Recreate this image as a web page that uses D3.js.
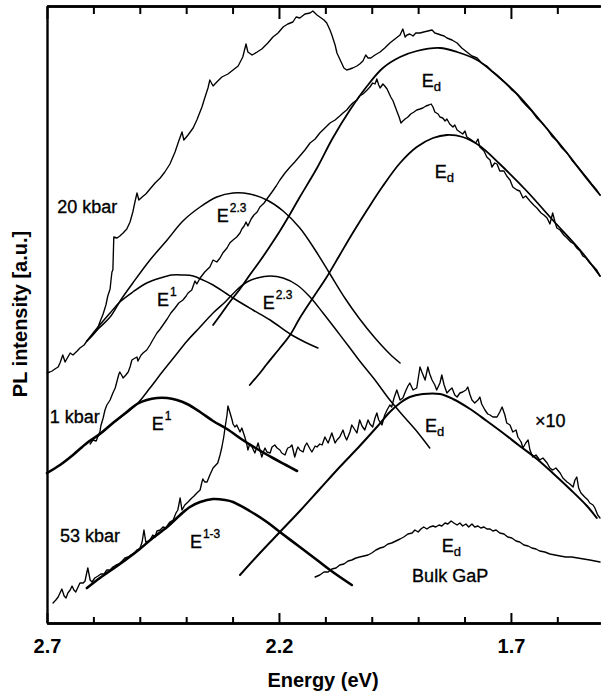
<!DOCTYPE html>
<html>
<head>
<meta charset="utf-8">
<script src="https://cdn.jsdelivr.net/npm/d3@7"></script>
<style>
  html, body { margin: 0; padding: 0; background: #fff; }
  svg { display: block; }
  text { font-family: "Liberation Sans", Arial, Helvetica, sans-serif; fill: #000; }
</style>
</head>
<body>
<svg id="chart" width="601" height="694"></svg>
<script>
// Photoluminescence spectra: [energy (eV), intensity (a.u.)]

// 20 kbar spectrum
const spec20kbar = [
  [2.700,250],[2.694,251],[2.689,252],[2.683,254],[2.676,256],[2.672,260],[2.666,268],[2.661,261],
  [2.655,266],[2.650,270],[2.644,268],[2.635,272],[2.629,275],[2.620,278],[2.614,282],[2.607,285],
  [2.601,288],[2.592,293],[2.586,301],[2.579,309],[2.573,318],[2.569,327],[2.564,334],[2.562,343],
  [2.560,351],[2.558,353],[2.556,386],[2.549,385],[2.543,387],[2.536,390],[2.528,394],[2.521,401],
  [2.515,411],[2.510,422],[2.506,430],[2.502,423],[2.495,426],[2.487,429],[2.478,434],[2.467,440],
  [2.456,445],[2.446,451],[2.435,459],[2.424,471],[2.416,482],[2.409,491],[2.405,483],[2.396,488],
  [2.385,495],[2.377,503],[2.366,516],[2.360,525],[2.353,535],[2.349,543],[2.342,537],[2.334,541],
  [2.323,546],[2.310,549],[2.299,553],[2.288,557],[2.278,566],[2.271,579],[2.267,571],[2.258,568],
  [2.247,571],[2.237,574],[2.224,580],[2.213,586],[2.202,590],[2.191,596],[2.181,599],[2.170,601],
  [2.163,606],[2.155,605],[2.144,609],[2.133,610],[2.127,612],[2.118,608],[2.112,606],[2.103,603],
  [2.097,600],[2.090,593],[2.086,588],[2.079,578],[2.075,570],[2.066,561],[2.060,555],[2.054,553],
  [2.047,554],[2.041,555],[2.032,557],[2.026,559],[2.019,562],[2.013,568],[2.008,565],[2.002,565],
  [1.993,568],[1.982,571],[1.972,575],[1.961,580],[1.950,584],[1.939,588],[1.933,594],[1.928,586],
  [1.924,588],[1.918,589],[1.911,587],[1.905,590],[1.896,590],[1.888,591],[1.879,592],[1.870,593],
  [1.864,590],[1.857,589],[1.851,588],[1.844,587],[1.838,585],[1.827,583],[1.816,580],[1.806,575],
  [1.795,571],[1.784,567],[1.773,565],[1.763,560],[1.752,557],[1.741,552],[1.730,548],[1.719,543],
  [1.709,539],[1.698,533],[1.687,529],[1.676,522],[1.666,517],[1.655,512],[1.644,505],[1.633,500],
  [1.622,494],[1.612,487],[1.601,482],[1.590,475],[1.579,470],[1.569,463],[1.558,457],[1.547,451],
  [1.536,445],[1.526,439],[1.515,433],[1.508,428]
];

// 20 kbar fit components
const fit20E23 = [
  [2.614,282],[2.590,294],[2.564,306],[2.541,323],[2.515,340],[2.478,363],[2.441,383],[2.407,402],
  [2.370,416],[2.334,426],[2.299,430],[2.263,429],[2.226,423],[2.191,412],[2.155,395],[2.122,373],
  [2.090,349],[2.058,325],[2.026,304],[1.993,285],[1.961,269],[1.939,260]
];
const fit20E1 = [
  [2.614,282],[2.590,296],[2.564,310],[2.543,321],[2.515,331],[2.485,340],[2.456,345],[2.431,348],
  [2.407,348],[2.385,347],[2.364,343],[2.342,338],[2.299,325],[2.256,313],[2.219,303],[2.176,289],
  [2.140,280],[2.116,275]
];
const fit20Ed = [
  [2.342,298],[2.323,310],[2.306,321],[2.284,334],[2.263,348],[2.241,362],[2.219,377],[2.198,392],
  [2.176,409],[2.155,426],[2.118,455],[2.084,485],[2.047,513],[2.010,537],[1.976,555],[1.939,566],
  [1.903,572],[1.853,575],[1.816,571],[1.773,563],[1.739,551],[1.687,529],[1.638,503],[1.579,470],
  [1.536,444],[1.508,428]
];

// 1 kbar spectrum
const spec1kbar = [
  [2.607,179],[2.601,183],[2.594,182],[2.590,187],[2.586,191],[2.584,197],[2.579,205],[2.575,213],
  [2.571,218],[2.564,223],[2.558,230],[2.553,235],[2.549,242],[2.545,249],[2.543,251],[2.538,247],
  [2.536,245],[2.530,248],[2.525,251],[2.521,256],[2.517,263],[2.510,265],[2.506,266],[2.504,262],
  [2.497,268],[2.493,270],[2.485,273],[2.478,278],[2.472,283],[2.463,290],[2.456,294],[2.450,298],
  [2.441,304],[2.433,310],[2.424,315],[2.416,320],[2.407,323],[2.400,327],[2.396,330],[2.388,333],
  [2.381,342],[2.377,339],[2.370,345],[2.360,351],[2.349,356],[2.342,363],[2.334,361],[2.327,365],
  [2.321,370],[2.312,375],[2.306,380],[2.299,383],[2.291,386],[2.284,390],[2.280,394],[2.275,397],
  [2.271,401],[2.267,397],[2.260,404],[2.254,408],[2.247,411],[2.241,416],[2.232,420],[2.226,424],
  [2.215,431],[2.206,437],[2.198,443],[2.187,450],[2.176,456],[2.166,461],[2.155,467],[2.144,473],
  [2.133,480],[2.122,484],[2.112,490],[2.101,495],[2.090,500],[2.079,503],[2.069,507],[2.062,510],
  [2.054,513],[2.047,517],[2.041,520],[2.032,523],[2.026,527],[2.019,529],[2.010,533],[2.004,536],
  [1.998,540],[1.993,539],[1.989,544],[1.985,538],[1.982,535],[1.976,539],[1.972,537],[1.967,534],
  [1.963,530],[1.959,526],[1.954,522],[1.950,517],[1.946,512],[1.941,506],[1.937,500],[1.933,502],
  [1.928,504],[1.922,506],[1.916,509],[1.909,511],[1.903,513],[1.896,514],[1.890,515],[1.883,517],
  [1.877,518],[1.872,519],[1.868,516],[1.864,511],[1.857,509],[1.853,506],[1.847,505],[1.842,502],
  [1.838,504],[1.832,499],[1.825,496],[1.821,498],[1.816,493],[1.810,491],[1.804,489],[1.799,492],
  [1.795,486],[1.788,484],[1.782,482],[1.776,480],[1.771,484],[1.767,476],[1.758,472],[1.752,466],
  [1.745,463],[1.741,456],[1.735,460],[1.730,459],[1.724,452],[1.715,452],[1.709,447],[1.702,443],
  [1.696,436],[1.687,433],[1.681,432],[1.674,425],[1.668,427],[1.659,422],[1.651,418],[1.644,415],
  [1.635,410],[1.629,408],[1.622,405],[1.616,399],[1.610,410],[1.605,401],[1.601,395],[1.594,393],
  [1.586,388],[1.579,385],[1.571,381],[1.564,379],[1.558,375],[1.551,372],[1.545,367],[1.538,365],
  [1.530,360],[1.523,357],[1.515,353],[1.508,347]
];

// 1 kbar fit components
const fit1E1 = [
  [2.700,150],[2.672,158],[2.644,168],[2.614,180],[2.586,189],[2.558,200],[2.528,211],[2.506,219],
  [2.485,223],[2.463,225],[2.441,225],[2.420,223],[2.398,219],[2.370,211],[2.342,202],[2.312,194],
  [2.278,183],[2.247,174],[2.213,165],[2.185,158],[2.161,152]
];
const fit1E23 = [
  [2.586,189],[2.558,200],[2.532,209],[2.506,219],[2.478,235],[2.450,252],[2.424,267],[2.398,282],
  [2.370,296],[2.342,310],[2.316,321],[2.291,333],[2.269,341],[2.247,345],[2.219,347],[2.191,345],
  [2.161,338],[2.133,326],[2.105,310],[2.075,292],[2.047,275],[2.026,262],[1.993,243],[1.961,223],
  [1.928,205],[1.900,190],[1.875,175]
];
const fit1Ed = [
  [2.263,238],[2.241,250],[2.226,259],[2.198,275],[2.176,288],[2.155,305],[2.127,325],[2.097,346],
  [2.069,368],[2.041,390],[2.010,413],[1.976,437],[1.939,460],[1.903,476],[1.868,485],[1.838,488],
  [1.804,486],[1.767,477],[1.724,459],[1.666,432],[1.610,403],[1.551,373],[1.508,347]
];

// 53 kbar spectrum (high-energy side as measured, low-energy side x10)
const spec53kbar = [
  [2.687,20],[2.681,23],[2.676,26],[2.672,30],[2.668,34],[2.663,27],[2.659,25],[2.655,30],
  [2.650,33],[2.646,37],[2.642,33],[2.638,31],[2.633,36],[2.629,40],[2.622,40],[2.618,42],
  [2.614,51],[2.612,55],[2.607,43],[2.603,41],[2.597,45],[2.590,47],[2.584,49],[2.577,49],
  [2.571,53],[2.564,53],[2.558,56],[2.551,58],[2.545,59],[2.538,62],[2.532,65],[2.525,66],
  [2.519,68],[2.513,69],[2.506,73],[2.500,74],[2.495,81],[2.491,93],[2.487,81],[2.482,82],
  [2.478,83],[2.472,88],[2.467,86],[2.463,92],[2.456,93],[2.450,96],[2.444,95],[2.435,101],
  [2.428,103],[2.422,110],[2.418,113],[2.413,125],[2.409,113],[2.403,118],[2.396,121],[2.390,124],
  [2.383,127],[2.377,130],[2.370,133],[2.366,141],[2.364,144],[2.360,141],[2.355,141],[2.349,148],
  [2.342,155],[2.336,158],[2.332,160],[2.327,168],[2.323,176],[2.319,186],[2.316,196],[2.312,208],
  [2.310,217],[2.306,211],[2.301,203],[2.299,199],[2.295,196],[2.291,198],[2.286,193],[2.284,191],
  [2.280,195],[2.275,188],[2.273,185],[2.269,178],[2.267,173],[2.263,179],[2.258,176],[2.254,172],
  [2.252,170],[2.247,177],[2.245,180],[2.241,173],[2.237,166],[2.232,173],[2.230,175],[2.226,171],
  [2.219,170],[2.215,176],[2.209,178],[2.204,175],[2.198,173],[2.194,170],[2.187,168],[2.183,173],
  [2.181,175],[2.176,176],[2.172,178],[2.166,166],[2.161,174],[2.159,176],[2.155,173],[2.148,171],
  [2.144,177],[2.140,180],[2.133,174],[2.129,171],[2.122,177],[2.118,176],[2.112,179],[2.107,178],
  [2.101,186],[2.094,180],[2.090,185],[2.086,190],[2.079,180],[2.075,183],[2.069,186],[2.062,193],
  [2.058,187],[2.054,183],[2.047,191],[2.043,198],[2.036,193],[2.032,190],[2.026,203],[2.021,197],
  [2.015,193],[2.008,203],[2.004,199],[1.998,196],[1.993,205],[1.989,210],[1.985,203],[1.978,198],
  [1.972,208],[1.967,213],[1.961,218],[1.957,216],[1.952,225],[1.946,233],[1.939,223],[1.933,225],
  [1.926,233],[1.922,237],[1.918,240],[1.911,233],[1.903,235],[1.898,250],[1.896,256],[1.892,251],
  [1.885,243],[1.879,256],[1.875,249],[1.870,243],[1.864,238],[1.860,233],[1.853,240],[1.849,248],
  [1.844,238],[1.838,230],[1.832,233],[1.827,235],[1.821,228],[1.816,226],[1.810,230],[1.804,231],
  [1.797,233],[1.793,236],[1.788,228],[1.784,223],[1.778,220],[1.771,223],[1.767,226],[1.763,219],
  [1.756,213],[1.750,209],[1.745,208],[1.739,206],[1.730,206],[1.724,211],[1.719,216],[1.713,208],
  [1.709,200],[1.702,198],[1.696,191],[1.689,193],[1.685,186],[1.678,181],[1.674,175],[1.668,180],
  [1.663,183],[1.659,173],[1.653,166],[1.646,168],[1.638,163],[1.631,165],[1.622,160],[1.616,155],
  [1.610,153],[1.603,155],[1.594,150],[1.588,145],[1.579,141],[1.573,139],[1.566,136],[1.562,143],
  [1.558,146],[1.554,135],[1.549,130],[1.545,128],[1.541,126],[1.534,123],[1.530,120],[1.523,118],
  [1.519,115],[1.513,108],[1.508,105]
];

// 53 kbar fit components
const fit53E13 = [
  [2.614,35],[2.586,45],[2.558,54],[2.528,64],[2.500,74],[2.472,85],[2.441,96],[2.413,108],
  [2.392,116],[2.370,121],[2.342,124],[2.316,123],[2.299,121],[2.263,112],[2.226,101],[2.198,91],
  [2.155,76],[2.118,63],[2.084,51],[2.043,38]
];
const fit53Ed = [
  [2.284,48],[2.241,70],[2.198,91],[2.155,112],[2.112,134],[2.069,156],[2.026,177],[1.989,196],
  [1.961,211],[1.939,220],[1.918,226],[1.890,229],[1.853,229],[1.825,224],[1.788,214],[1.752,202],
  [1.717,190],[1.681,177],[1.644,164],[1.610,150],[1.573,134],[1.536,117],[1.515,105]
];

// Bulk GaP spectrum
const specBulk = [
  [2.122,46],[2.112,48],[2.103,51],[2.094,51],[2.086,54],[2.077,55],[2.069,58],[2.060,59],
  [2.051,62],[2.043,63],[2.034,65],[2.026,66],[2.017,67],[2.008,68],[2.000,70],[1.991,73],
  [1.982,75],[1.974,76],[1.965,79],[1.957,80],[1.948,82],[1.939,84],[1.931,86],[1.922,89],
  [1.913,90],[1.907,93],[1.900,91],[1.894,94],[1.888,96],[1.881,94],[1.875,96],[1.868,97],
  [1.862,96],[1.855,98],[1.849,97],[1.842,100],[1.836,99],[1.829,102],[1.823,100],[1.816,98],
  [1.810,100],[1.804,97],[1.797,99],[1.791,96],[1.784,99],[1.778,96],[1.771,97],[1.765,95],
  [1.758,96],[1.752,94],[1.745,94],[1.739,92],[1.732,93],[1.724,90],[1.715,89],[1.707,86],
  [1.698,85],[1.689,82],[1.681,81],[1.672,78],[1.663,77],[1.655,75],[1.646,74],[1.638,72],
  [1.627,71],[1.616,69],[1.605,68],[1.594,67],[1.582,66],[1.569,66],[1.556,65],[1.543,64],
  [1.530,63],[1.519,62],[1.508,61]
];

// Axis ticks
const majorTicks = [2.7, 2.2, 1.7];
const minorTicks = [2.6, 2.5, 2.4, 2.3, 2.1, 2.0, 1.9, 1.8, 1.6];

// ---------------------------------------------------------------
const svg = d3.select("#chart");
const W = 601, H = 694;
svg.append("rect").attr("width", W).attr("height", H).attr("fill", "#fff");

const plot = { left: 47, right: 600, top: 6, bottom: 623 };

const x = d3.scaleLinear().domain([2.7, 1.508]).range([plot.left, plot.right]);
const y = d3.scaleLinear().domain([0, 617]).range([plot.bottom, plot.top]);

const rough = d3.line().x(d => x(d[0])).y(d => y(d[1])).curve(d3.curveLinear);
const smooth = d3.line().x(d => x(d[0])).y(d => y(d[1])).curve(d3.curveCatmullRom.alpha(0.5));

const layers = [
  { data: fit20E23, gen: smooth, w: 1.5 },
  { data: fit20E1,  gen: smooth, w: 1.5 },
  { data: fit20Ed,  gen: smooth, w: 1.8 },
  { data: fit1E23,  gen: smooth, w: 1.5 },
  { data: fit1Ed,   gen: smooth, w: 1.8 },
  { data: fit1E1,   gen: smooth, w: 2.6 },
  { data: fit53E13, gen: smooth, w: 2.6 },
  { data: fit53Ed,  gen: smooth, w: 2.0 },
  { data: spec20kbar, gen: rough, w: 1.35 },
  { data: spec1kbar,  gen: rough, w: 1.35 },
  { data: spec53kbar, gen: rough, w: 1.35 },
  { data: specBulk,   gen: rough, w: 1.4 }
];

svg.append("g").selectAll("path").data(layers).join("path")
  .attr("d", d => d.gen(d.data))
  .attr("fill", "none")
  .attr("stroke", "#000")
  .attr("stroke-width", d => d.w)
  .attr("stroke-linejoin", "round")
  .attr("stroke-linecap", "round");

// Axes
function styleAxis(g) {
  g.select(".domain").attr("stroke", "#000").attr("stroke-width", 2.4);
  g.selectAll(".tick line").attr("stroke", "#000").attr("stroke-width", 2);
}

const gBottomMinor = svg.append("g").attr("transform", `translate(0,${plot.bottom})`)
  .call(d3.axisBottom(x).tickValues(minorTicks).tickSizeInner(-6).tickSizeOuter(0).tickFormat(""));
styleAxis(gBottomMinor);

const gBottomMajor = svg.append("g").attr("transform", `translate(0,${plot.bottom})`)
  .call(d3.axisBottom(x).tickValues(majorTicks).tickSizeInner(-10).tickSizeOuter(0)
        .tickPadding(16).tickFormat(d3.format(".1f")));
styleAxis(gBottomMajor);
gBottomMajor.selectAll(".tick text")
  .attr("font-family", "'Liberation Sans', Arial, sans-serif")
  .attr("font-size", 20).attr("font-weight", "bold").attr("fill", "#000");

const gTopMinor = svg.append("g").attr("transform", `translate(0,${plot.top})`)
  .call(d3.axisTop(x).tickValues(minorTicks).tickSizeInner(-8).tickSizeOuter(0).tickFormat(""));
styleAxis(gTopMinor);
const gTopMajor = svg.append("g").attr("transform", `translate(0,${plot.top})`)
  .call(d3.axisTop(x).tickValues(majorTicks).tickSizeInner(-13).tickSizeOuter(0).tickFormat(""));
styleAxis(gTopMajor);
gTopMajor.select(".domain").attr("d", `M${plot.left},0.5H${W}`);
gBottomMajor.select(".domain").attr("d", `M${plot.left},0.5H${W}`);

const gLeft = svg.append("g").attr("transform", `translate(${plot.left},0)`)
  .call(d3.axisLeft(y).tickValues([]).tickSizeOuter(0));
styleAxis(gLeft);

// Axis titles
svg.append("text")
  .attr("x", 323).attr("y", 687)
  .attr("text-anchor", "middle")
  .attr("font-size", 20).attr("font-weight", "bold")
  .text("Energy (eV)");

svg.append("text")
  .attr("transform", "translate(27,314) rotate(-90)")
  .attr("text-anchor", "middle")
  .attr("font-size", 20).attr("font-weight", "bold")
  .text("PL intensity [a.u.]");

// In-plot labels, positioned in data units
const labelStroke = 0.35;
const plainLabels = [
  { e: 2.678, i: 410, t: "20 kbar" },
  { e: 2.694, i: 200, t: "1 kbar" },
  { e: 2.672, i: 81,  t: "53 kbar" },
  { e: 1.913, i: 41,  t: "Bulk GaP" }
];
svg.append("g").selectAll("text").data(plainLabels).join("text")
  .attr("x", d => x(d.e)).attr("y", d => y(d.i))
  .attr("font-size", 18)
  .attr("stroke", "#000").attr("stroke-width", labelStroke)
  .text(d => d.t);

const peakLabels = [
  { e: 2.334, i: 401, sup: "2.3" },
  { e: 2.463, i: 317, sup: "1" },
  { e: 2.235, i: 314, sup: "2.3" },
  { e: 2.474, i: 193, sup: "1" },
  { e: 2.392, i: 75,  sup: "1-3" },
  { e: 1.892, i: 536, sub: "d" },
  { e: 1.864, i: 445, sub: "d" },
  { e: 1.885, i: 191, sub: "d" },
  { e: 1.849, i: 71,  sub: "d" }
];
const pl = svg.append("g").selectAll("text").data(peakLabels).join("text")
  .attr("x", d => x(d.e)).attr("y", d => y(d.i))
  .attr("font-size", 18)
  .attr("stroke", "#000").attr("stroke-width", labelStroke);
pl.append("tspan").text("E");
pl.filter(d => d.sup).append("tspan")
  .attr("dx", 1).attr("dy", -10).attr("font-size", 12).text(d => d.sup);
pl.filter(d => d.sub).append("tspan")
  .attr("dx", 0).attr("dy", 4).attr("font-size", 13).text(d => d.sub);

svg.append("text")
  .attr("x", x(1.648)).attr("y", y(196))
  .attr("font-size", 18)
  .attr("stroke", "#000").attr("stroke-width", labelStroke)
  .text("\u00d710");
</script>
</body>
</html>
